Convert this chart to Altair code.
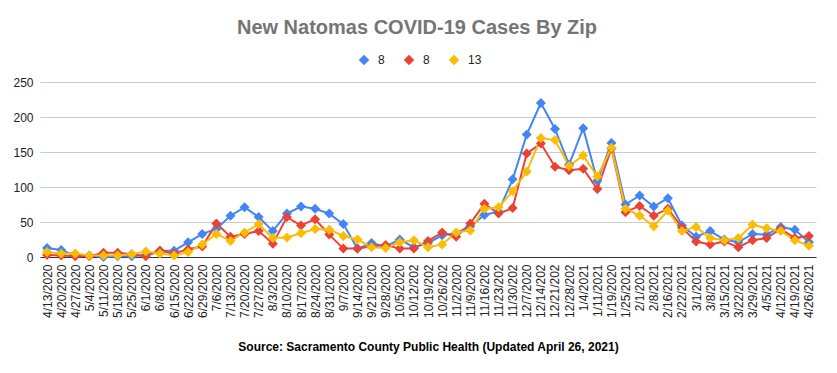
import altair as alt
import pandas as pd

dates = [
    "4/13/2020", "4/20/2020", "4/27/2020", "5/4/2020", "5/11/2020", "5/18/2020", "5/25/2020",
    "6/1/2020", "6/8/2020", "6/15/2020", "6/22/2020", "6/29/2020", "7/6/2020", "7/13/2020",
    "7/20/2020", "7/27/2020", "8/3/2020", "8/10/2020", "8/17/2020", "8/24/2020", "8/31/2020",
    "9/7/2020", "9/14/2020", "9/21/2020", "9/28/2020", "10/5/2020", "10/12/2020", "10/19/2020",
    "10/26/2020", "11/2/2020", "11/9/2020", "11/16/2020", "11/23/2020", "11/30/2020", "12/7/2020",
    "12/14/2020", "12/21/2020", "12/28/2020", "1/4/2021", "1/11/2021", "1/19/2020", "1/25/2021",
    "2/1/2021", "2/8/2021", "2/16/2021", "2/22/2021", "3/1/2021", "3/8/2021", "3/15/2021",
    "3/22/2021", "3/29/2021", "4/5/2021", "4/12/2021", "4/19/2021", "4/26/2021",
]

series_blue = [13, 10, 2, 2, 0, 1, 1, 3, 9, 9, 21, 33, 40, 59, 71, 57, 37, 62, 72, 69, 62, 47,
               12, 20, 15, 25, 14, 20, 31, 34, 44, 60, 65, 111, 175, 220, 183, 132, 184, 109,
               163, 75, 88, 72, 84, 45, 29, 37, 25, 21, 33, 32, 43, 39, 21]
series_red = [3, 2, 1, 1, 6, 6, 4, 1, 9, 5, 11, 15, 48, 29, 33, 37, 19, 57, 45, 54, 32, 12,
              12, 15, 17, 12, 12, 23, 35, 29, 48, 76, 62, 70, 148, 162, 129, 124, 126, 97,
              155, 64, 73, 59, 69, 42, 22, 18, 22, 14, 24, 27, 40, 27, 30]
series_yellow = [7, 5, 5, 2, 2, 2, 4, 8, 5, 2, 7, 18, 33, 23, 35, 47, 27, 28, 34, 40, 39, 30,
                 25, 14, 13, 21, 24, 14, 18, 35, 38, 69, 71, 94, 122, 170, 167, 130, 145, 115,
                 156, 69, 59, 44, 66, 37, 43, 27, 24, 27, 46, 41, 37, 24, 16]

series_keys = ["A", "B", "C"]
series_labels = ["8", "8", "13"]
colors = ["#4285F4", "#EA4335", "#FBBC04"]

rows = []
for key, vals in zip(series_keys, [series_blue, series_red, series_yellow]):
    for d, v in zip(dates, vals):
        rows.append({"date": d, "series": key, "cases": v})
df = pd.DataFrame(rows)

FONT = "Liberation Sans"

chart = alt.Chart(df).mark_line(
    strokeWidth=2,
    point=alt.OverlayMarkDef(shape="diamond", size=100, filled=True, opacity=1),
).encode(
    x=alt.X(
        "date:O",
        sort=dates,
        scale=alt.Scale(type="point", padding=0.5),
        title="Source: Sacramento County Public Health (Updated April 26, 2021)",
        axis=alt.Axis(
            labelAngle=270,
            labelExpr="substring(datum.label, 0, 9)",
            labelFontSize=12,
            labelFont=FONT,
            labelColor="#222222",
            labelPadding=7,
            labelOverlap=False,
            ticks=False,
            grid=False,
            domainColor="#333333",
            domainWidth=1,
            titleFont=FONT,
            titleFontSize=12,
            titleFontWeight="bold",
            titleColor="#000000",
            titlePadding=24,
        ),
    ),
    y=alt.Y(
        "cases:Q",
        scale=alt.Scale(domain=[0, 250], nice=False),
        title=None,
        axis=alt.Axis(
            values=[0, 50, 100, 150, 200, 250],
            labelFontSize=12,
            labelFont=FONT,
            labelColor="#222222",
            labelPadding=7,
            ticks=False,
            domain=False,
            gridColor="#cccccc",
            gridWidth=1,
        ),
    ),
    color=alt.Color(
        "series:N",
        scale=alt.Scale(domain=series_keys, range=colors),
        legend=alt.Legend(
            orient="none",
            legendX=318,
            legendY=-28,
            direction="horizontal",
            title=None,
            symbolType="diamond",
            symbolSize=110,
            symbolStrokeWidth=0,
            labelExpr="datum.label == 'C' ? '13' : '8'",
            labelFont=FONT,
            labelFontSize=12,
            labelColor="#222222",
            labelOffset=8,
            columnPadding=18,
        ),
    ),
).properties(
    width=776,
    height=175,
    title=alt.TitleParams(
        "New Natomas COVID-19 Cases By Zip",
        font=FONT,
        fontSize=20,
        fontWeight="bold",
        color="#757575",
        anchor="middle",
        baseline="alphabetic",
        offset=0,
        dx=-11,
    ),
    autosize=alt.AutoSizeParams(type="none"),
    padding={"left": 32, "top": 74, "right": 13, "bottom": 108},
).configure_view(stroke=None)

chart.save("out.html", embed_options={"renderer": "svg", "actions": False})
